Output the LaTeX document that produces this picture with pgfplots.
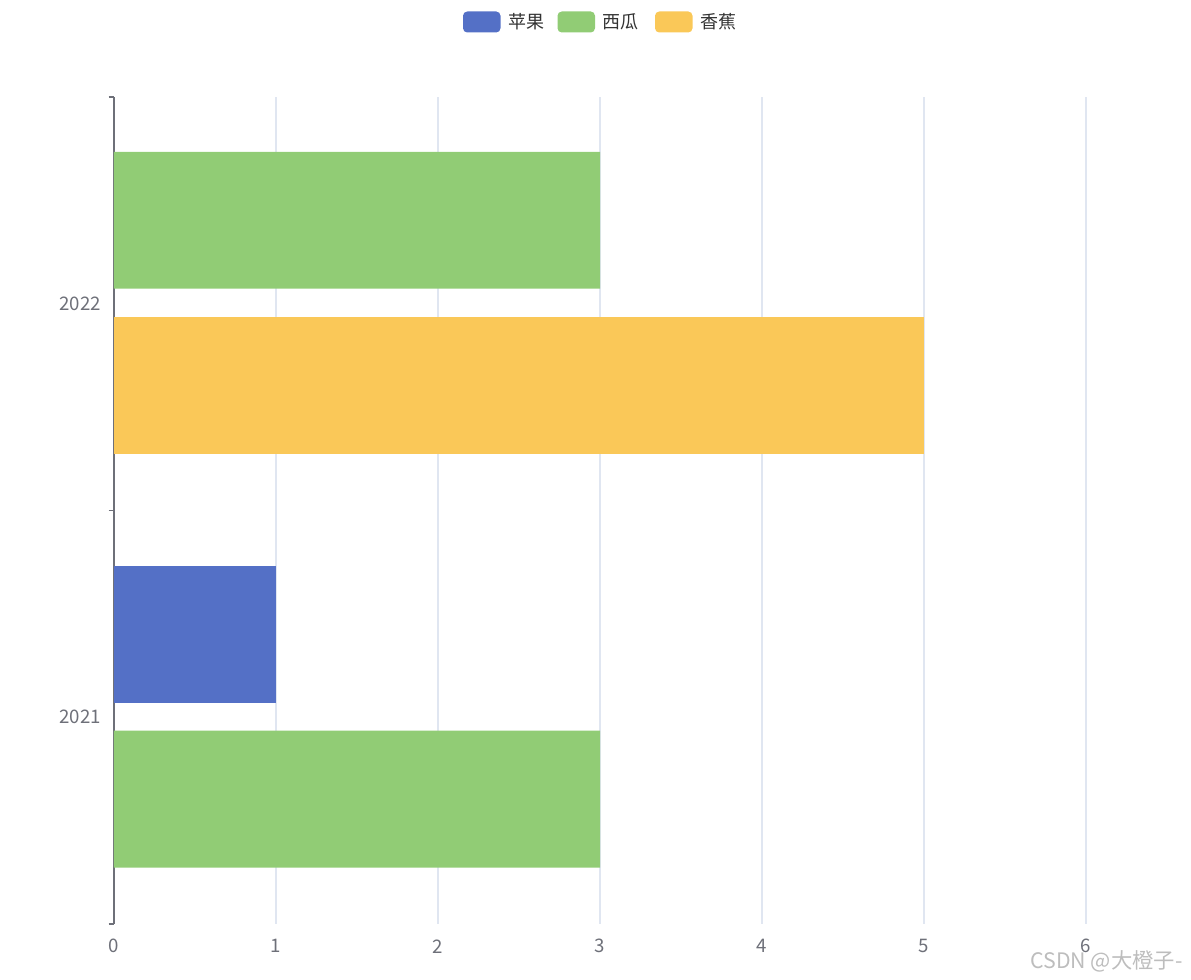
\documentclass[border=0pt]{standalone}
\usepackage{pgfplots}
\pgfplotsset{compat=1.18}
\usepackage{fontspec}
\setmainfont{Noto Sans CJK SC}
\definecolor{applec}{HTML}{5470C6}
\definecolor{melonc}{HTML}{91CC75}
\definecolor{bananac}{HTML}{FAC858}
\definecolor{axisgray}{HTML}{6E7079}
\definecolor{gridc}{HTML}{E0E6F1}
\definecolor{legtext}{HTML}{333333}
\definecolor{markc}{HTML}{BDBDBD}
\begin{document}
\begin{tikzpicture}
% page in pixels, origin at top left of the reference
\begin{scope}[shift={(-85.5pt,693pt)}, x=0.75pt, y=-0.75pt]
  \useasboundingbox (0,0) rectangle (1191,979);
\end{scope}
\begin{axis}[
  scale only axis,
  width=729pt, height=620.25pt,
  xmin=0, xmax=6, ymin=0, ymax=2,
  axis lines*=left,
  x axis line style={draw=none},
  y axis line style={color=axisgray, line width=1pt},
  xtick={0,1,...,6},
  xtick style={draw=none},
  xmajorgrids,
  major grid style={color=gridc, line width=1pt},
  ytick={0,1,2}, yticklabels={,,},
  tick align=outside,
  ytick style={color=axisgray, line width=1pt},
  major tick length=4pt,
  extra y ticks={0.5,1.5},
  extra y tick labels={2021,2022},
  extra y tick style={major tick length=0pt},
  ticklabel style={font=\fontsize{14}{17}\selectfont, color=axisgray, inner sep=0pt},
  xticklabel style={anchor=center, yshift=-12.75pt},
  yticklabel style={anchor=east, xshift=-9.75pt},
  /pgf/number format/assume math mode=true,
  xbar, bar shift=0pt, bar width=0.331,
]
\addplot[draw=none, fill=applec] coordinates {(1,0.70)};
\addplot[draw=none, fill=melonc] coordinates {(3,0.302) (3,1.702)};
\addplot[draw=none, fill=bananac] coordinates {(5,1.302)};
\end{axis}
\begin{scope}[shift={(-85.5pt,693pt)}, x=0.75pt, y=-0.75pt]
  \fill[applec, rounded corners=3.2pt] (463,11.5) rectangle (500.5,32.5);
  \fill[melonc, rounded corners=3.2pt] (557.5,11.5) rectangle (595,32.5);
  \fill[bananac, rounded corners=3.2pt] (655,11.5) rectangle (692.5,32.5);
  \begin{scope}[every node/.style={anchor=west, inner sep=0pt, text=legtext,
      font=\fontsize{13.5}{16}\selectfont}]
    \node at (508,22) {苹果};
    \node at (602.5,22) {西瓜};
    \node at (700,22) {香蕉};
  \end{scope}
  \node[anchor=west, inner sep=0pt, text=markc, font=\fontsize{16}{19}\selectfont]
    at (1030,961) {CSDN @大橙子-};
\end{scope}
\end{tikzpicture}
\end{document}
